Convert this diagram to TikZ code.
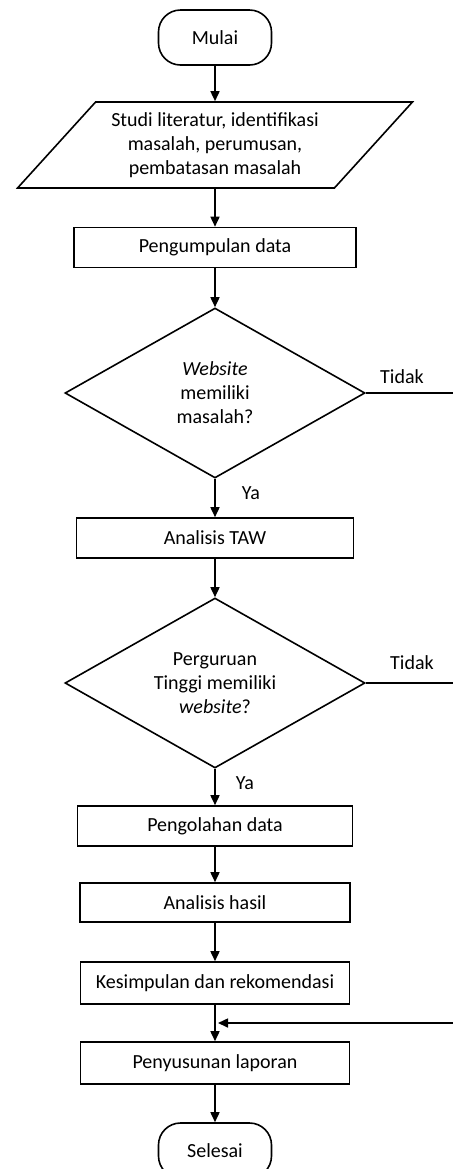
\documentclass[tikz,border=0pt]{standalone}
\usepackage{fontspec}
\setmainfont{Carlito}
\usepackage{tikz}
\usetikzlibrary{arrows.meta,shapes.geometric,positioning}
\begin{document}
\begin{tikzpicture}[x=0.5pt,y=-0.5pt,line width=0.8pt]
\tikzstyle{every node}=[font=\fontsize{10}{12}\selectfont]
\tikzstyle{terminal}=[draw,rounded corners=11pt,minimum width=56.5pt,minimum height=27.5pt]
\tikzstyle{proses}=[draw,rectangle,minimum height=20pt,align=center]
\tikzstyle{masukan}=[draw,trapezium,trapezium left angle=47.4,trapezium right angle=132.6,trapezium stretches=true,minimum width=197.5pt,minimum height=43pt,align=center]
\tikzstyle{keputusan}=[draw,diamond,aspect=1.76,minimum width=150pt,minimum height=85pt,inner sep=1pt,align=center]
\tikzstyle{panah}=[-{Triangle[length=5pt,width=4.5pt]}]
\useasboundingbox (0,0) rectangle (453,1169);
\node[terminal] (mulai) at (215,37.5) {Mulai};
\node[masukan] (studi) at (215,145) {Studi literatur, identifikasi\\masalah, perumusan,\\pembatasan masalah};
\node[proses,minimum width=141pt] (data) at (215,247.5) {Pengumpulan data};
\node[keputusan] (web) at (215,393) {\textit{Website}\\memiliki\\masalah?};
\node[proses,minimum width=138.5pt] (taw) at (215,538) {Analisis TAW};
\node[keputusan] (pt) at (215,683) {Perguruan\\Tinggi memiliki\\\textit{website}?};
\node[proses,minimum width=137.5pt] (olah) at (215,826) {Pengolahan data};
\node[proses,minimum width=135pt,minimum height=19.5pt] (hasil) at (215,902.5) {Analisis hasil};
\node[proses,minimum width=134.5pt,minimum height=21pt] (simpul) at (215,983) {Kesimpulan dan rekomendasi};
\node[proses,minimum width=134.5pt,minimum height=21pt] (susun) at (215,1063) {Penyusunan laporan};
\node[terminal] (selesai) at (215,1150.5) {Selesai};
\node (tidak1) at (402,377) {Tidak};
\node (tidak2) at (412,663) {Tidak};
\node (ya1) at (251,493) {Ya};
\node (ya2) at (245,783) {Ya};
\coordinate (kanan1) at (456,393);
\coordinate (kanan2) at (456,683);
\coordinate (kanan3) at (456,1023);
\draw[panah] (mulai) -- (studi);
\draw[panah] (studi) -- (data);
\draw[panah] (data) -- (web);
\draw[panah] (web) -- (taw);
\draw[panah] (taw) -- (pt);
\draw[panah] (pt) -- (olah);
\draw[panah] (olah) -- (hasil);
\draw[panah] (hasil) -- (simpul);
\draw[panah] (simpul) -- (susun);
\draw[panah] (susun) -- (selesai);
\draw (web.east) -- (kanan1);
\draw (pt.east) -- (kanan2);
\draw[panah,shorten >=1.5pt] (kanan3) -- (simpul.south |- kanan3);
\end{tikzpicture}
\end{document}
